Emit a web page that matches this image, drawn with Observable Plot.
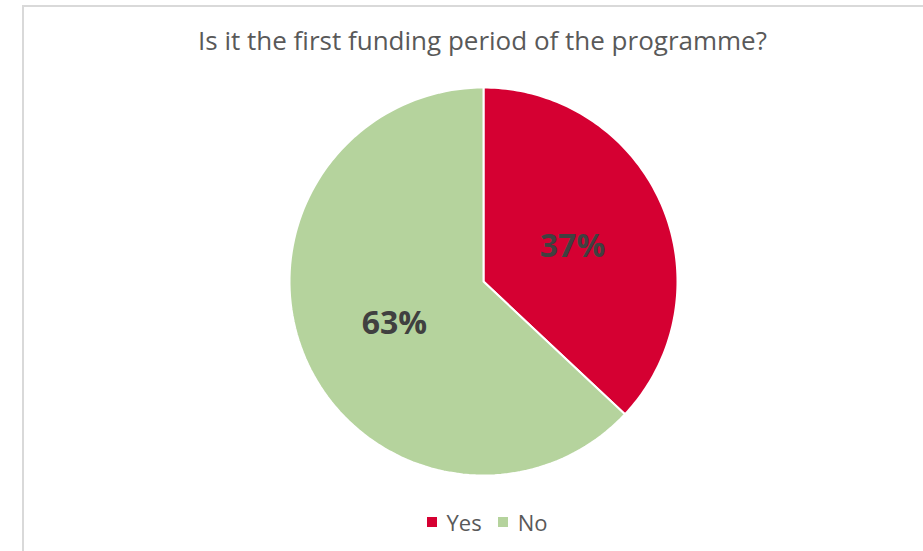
<!DOCTYPE html>
<html>
<head>
<meta charset="utf-8">
<script src="https://cdn.jsdelivr.net/npm/d3@7"></script>
<script src="https://cdn.jsdelivr.net/npm/@observablehq/plot@0.6"></script>
<style>
  html, body { margin: 0; padding: 0; background: #fff; overflow: hidden; }
  #frame { position: absolute; left: 22px; top: 5px; width: 940px; height: 600px;
           border: 2px solid #d9d9d9; box-sizing: border-box; }
  #title { position: absolute; left: 0; top: 22px; width: 965px; text-align: center;
           font-family: "Open Sans", sans-serif; font-size: 26px; color: #595959; line-height: 36px; }
  #chart { position: absolute; left: 0; top: 0; }
  #legend { position: absolute; left: 0; top: 505px; width: 990px; display: flex; justify-content: center; }
  #legend span { margin-right: 16px !important; }
  #legend svg { margin-right: 10px !important; }
</style>
</head>
<body>
<div id="frame"></div>
<div id="title">Is it the first funding period of the programme?</div>
<div id="chart"></div>
<div id="legend"></div>
<script>
const categories = ["Yes", "No"];
const values = [37, 63];
const labels = ["37%", "63%"];
const colors = ["#D50032", "#B5D39D"];

const pie = d3.pie().sort(null).value(d => d)(values);
const pts = [];
const labelPts = [];
pie.forEach((a, i) => {
  const n = 120;
  pts.push({cat: categories[i], x: 0, y: 0});
  for (let k = 0; k <= n; k++) {
    const t = a.startAngle + (a.endAngle - a.startAngle) * k / n;
    pts.push({cat: categories[i], x: Math.sin(t), y: Math.cos(t)});
  }
  const m = (a.startAngle + a.endAngle) / 2;
  labelPts.push({label: labels[i], x: 0.5 * Math.sin(m), y: 0.5 * Math.cos(m) - 0.02});
});

const cx = 483, cy = 281, r = 194;
const chart = Plot.plot({
  width: 923, height: 551, margin: 0,
  x: {domain: [-1, 1], range: [cx - r, cx + r], axis: null},
  y: {domain: [-1, 1], range: [cy + r, cy - r], axis: null},
  color: {domain: categories, range: colors},
  style: {background: "transparent"},
  marks: [
    Plot.line(pts, {x: "x", y: "y", z: "cat", fill: "cat", stroke: "white", strokeWidth: 2, curve: "linear-closed"}),
    Plot.text(labelPts, {x: "x", y: "y", text: "label", fill: "#404040", fontSize: 32, fontWeight: "bold", fontFamily: "'Open Sans', sans-serif"})
  ]
});
document.getElementById("chart").appendChild(chart);

const leg = Plot.legend({
  color: {domain: categories, range: colors},
  swatchSize: 10,
  style: {fontFamily: "'Open Sans', sans-serif", fontSize: "22px", color: "#595959"}
});
document.getElementById("legend").appendChild(leg);
</script>
</body>
</html>
